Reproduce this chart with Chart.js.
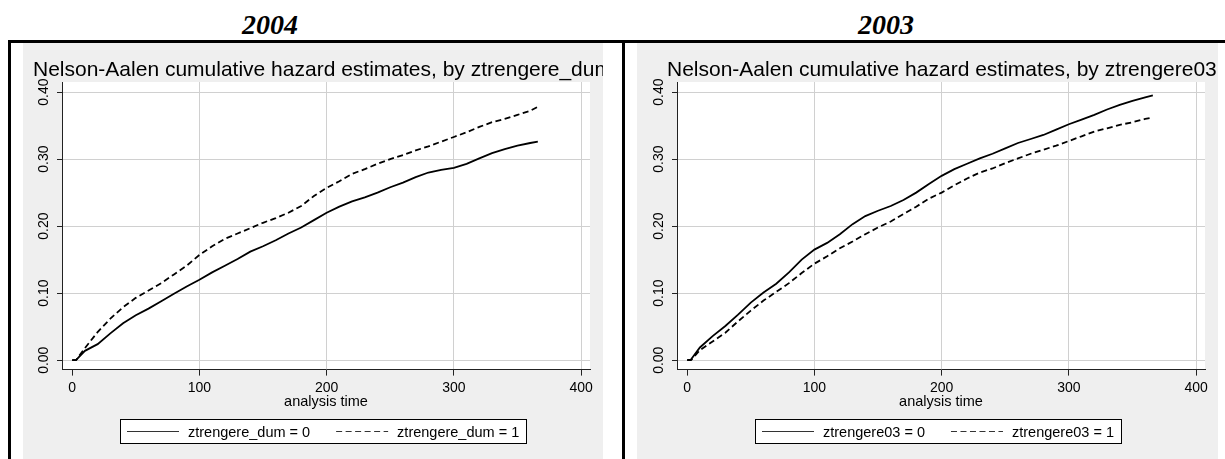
<!DOCTYPE html>
<html>
<head>
<meta charset="utf-8">
<script src="https://cdn.jsdelivr.net/npm/chart.js@4.4.1/dist/chart.umd.min.js"></script>
<style>
  html, body { margin: 0; padding: 0; background: #fff; }
  body { position: relative; width: 1225px; height: 459px; overflow: hidden; font-family: "Liberation Sans", Arial, sans-serif; }
  .caption { position: absolute; left: 35px; top: -23px; font: italic bold 20px/20px "Liberation Serif", "Times New Roman", serif; white-space: nowrap; color: #000; }
  .year { position: absolute; top: 11px; width: 200px; text-align: center; font: italic bold 28px/28px "Liberation Serif", "Times New Roman", serif; color: #000; }
  .rule { position: absolute; background: #000; }
  .panel { position: absolute; top: 43px; height: 416px; background: #efefef; }
  .panel canvas { display: block; }
</style>
</head>
<body>
<div class="caption">Figure 6  Nelson-Aalen cumulative hazard estimates, by year of entry</div>
<div class="year" style="left:170px">2004</div>
<div class="year" style="left:786px">2003</div>
<div class="rule" style="left:8px; top:40px; width:1217px; height:3px"></div>
<div class="rule" style="left:8px; top:40px; width:3px; height:419px"></div>
<div class="rule" style="left:622px; top:40px; width:3px; height:419px"></div>
<div class="panel" style="left:23px; width:580px"><canvas id="chart2004" width="580" height="416"></canvas></div>
<div class="panel" style="left:637px; width:581px"><canvas id="chart2003" width="581" height="416"></canvas></div>

<script>
// Analysis time (days) at which the cumulative hazards are listed
const times = [0, 3, 10, 20, 30, 40, 50, 60, 70, 80, 90, 100, 110, 120, 130, 140, 150, 160, 170, 180,
               190, 200, 210, 220, 230, 240, 250, 260, 270, 280, 290, 300, 310, 320, 330, 340, 350, 360, 366];

// 2004: Nelson-Aalen cumulative hazard by ztrengere_dum
const hazard2004Dum0 = [0, 0, 0.014, 0.024, 0.040, 0.055, 0.067, 0.077, 0.088, 0.099, 0.110, 0.120, 0.131, 0.141,
                        0.151, 0.162, 0.170, 0.179, 0.189, 0.198, 0.209, 0.220, 0.229, 0.237, 0.243, 0.250, 0.258,
                        0.265, 0.273, 0.280, 0.284, 0.287, 0.293, 0.301, 0.309, 0.315, 0.320, 0.324, 0.326];
const hazard2004Dum1 = [0, 0, 0.018, 0.042, 0.062, 0.079, 0.093, 0.104, 0.115, 0.128, 0.141, 0.157, 0.170, 0.181,
                        0.189, 0.197, 0.205, 0.212, 0.220, 0.230, 0.245, 0.257, 0.267, 0.278, 0.285, 0.293, 0.300,
                        0.306, 0.313, 0.319, 0.326, 0.333, 0.340, 0.348, 0.355, 0.360, 0.366, 0.372, 0.378];

// 2003: Nelson-Aalen cumulative hazard by ztrengere03
const hazard2003Grp0 = [0, 0.001, 0.019, 0.036, 0.051, 0.068, 0.086, 0.101, 0.114, 0.131, 0.150, 0.165, 0.175, 0.188,
                        0.203, 0.215, 0.223, 0.230, 0.239, 0.250, 0.263, 0.275, 0.285, 0.293, 0.301, 0.308, 0.316,
                        0.324, 0.330, 0.336, 0.344, 0.352, 0.359, 0.366, 0.374, 0.381, 0.387, 0.392, 0.395];
const hazard2003Grp1 = [0, 0, 0.015, 0.028, 0.041, 0.058, 0.074, 0.089, 0.102, 0.115, 0.130, 0.144, 0.155, 0.167,
                        0.177, 0.188, 0.198, 0.207, 0.218, 0.229, 0.241, 0.250, 0.261, 0.271, 0.280, 0.286, 0.294,
                        0.301, 0.308, 0.314, 0.320, 0.327, 0.334, 0.341, 0.346, 0.351, 0.355, 0.360, 0.362];

const xTickValues = [0, 100, 200, 300, 400];
const yTickValues = [0, 0.1, 0.2, 0.3, 0.4];
const yTickLabels = ['0.00', '0.10', '0.20', '0.30', '0.40'];
const xAxisTitle = 'analysis time';

const FONT = '"Liberation Sans", Arial, sans-serif';

// Stata-style decorations: white plot region, clipped title, rotated y labels, boxed legend
const stataDecor = {
  id: 'stataDecor',
  beforeDraw(chart) {
    const { ctx, chartArea: a } = chart;
    ctx.save();
    ctx.fillStyle = '#ffffff';
    ctx.fillRect(a.left, a.top, a.right - a.left, a.bottom - a.top);
    ctx.restore();
  },
  afterDraw(chart, args, o) {
    const { ctx, chartArea: a } = chart;
    const ys = chart.scales.y;
    ctx.save();
    ctx.fillStyle = '#000';

    // graph title
    ctx.font = '21px ' + FONT;
    ctx.textAlign = 'left';
    ctx.textBaseline = 'alphabetic';
    ctx.fillText(o.title, o.titleX, o.titleY);

    // vertical y tick labels
    ctx.font = '14px ' + FONT;
    ctx.textAlign = 'center';
    ctx.textBaseline = 'middle';
    ys.ticks.forEach((t, i) => {
      const y = ys.getPixelForValue(t.value);
      ctx.save();
      ctx.translate(a.left - 17.5, y);
      ctx.rotate(-Math.PI / 2);
      ctx.fillText(yTickLabels[i], 0, 0);
      ctx.restore();
    });

    // legend
    ctx.font = '14.5px ' + FONT;
    const items = chart.data.datasets;
    const pad = 7, sample = 52, gapS = 9, gapItem = 26, h = 24;
    const widths = items.map(d => ctx.measureText(d.label).width);
    const total = pad * 2 + widths.reduce((s, w) => s + w, 0) + items.length * (sample + gapS) + gapItem * (items.length - 1);
    let x = Math.round((a.left + a.right) / 2 - total / 2) - 3;
    const top = o.legendTop;
    ctx.fillStyle = '#fff';
    ctx.fillRect(x, top, Math.round(total), h);
    ctx.strokeStyle = '#000';
    ctx.lineWidth = 1;
    ctx.strokeRect(x + 0.5, top + 0.5, Math.round(total), h);
    const midY = top + h / 2 + 0.5;
    x += pad;
    items.forEach((d, i) => {
      ctx.save();
      ctx.strokeStyle = '#333';
      ctx.lineWidth = 1.2;
      ctx.setLineDash(d.borderDash || []);
      ctx.beginPath();
      ctx.moveTo(x, midY);
      ctx.lineTo(x + sample, midY);
      ctx.stroke();
      ctx.restore();
      x += sample + gapS;
      ctx.fillStyle = '#000';
      ctx.textAlign = 'left';
      ctx.textBaseline = 'middle';
      ctx.fillText(d.label, x, midY + 1);
      x += widths[i] + gapItem;
    });
    ctx.restore();
  }
};

function toPoints(vals) {
  return times.map((t, i) => ({ x: t, y: vals[i] }));
}

function makePanel(id, opts) {
  return new Chart(document.getElementById(id), {
    type: 'line',
    data: {
      datasets: [
        { label: opts.labels[0], data: toPoints(opts.series[0]), borderColor: '#000', borderWidth: 1.8,
          pointRadius: 0, tension: 0, fill: false },
        { label: opts.labels[1], data: toPoints(opts.series[1]), borderColor: '#000', borderWidth: 1.8,
          borderDash: [6, 3.5], pointRadius: 0, tension: 0, fill: false }
      ]
    },
    options: {
      responsive: false,
      animation: false,
      events: [],
      layout: { padding: { top: 39, right: 13, bottom: 0, left: 0 } },
      plugins: {
        legend: { display: false },
        title: { display: false },
        tooltip: { enabled: false },
        stataDecor: { title: opts.title, titleX: opts.titleX, titleY: 33, legendTop: 376 }
      },
      scales: {
        x: {
          type: 'linear',
          min: -8, max: 407,
          afterBuildTicks(scale) { scale.ticks = xTickValues.map(v => ({ value: v })); },
          afterFit(scale) { scale.height = 89.4; },
          ticks: { font: { family: FONT, size: 14 }, color: '#000', padding: 4, maxRotation: 0, includeBounds: false },
          grid: {
            color: c => (c.tick && c.tick.value === 0 ? 'rgba(0,0,0,0)' : '#d0d0d0'),
            lineWidth: 1, tickColor: '#222', tickLength: 6
          },
          border: { display: true, color: '#222', width: 1 },
          title: { display: true, text: xAxisTitle, color: '#000', font: { family: FONT, size: 14.5 },
                   padding: { top: 0, bottom: 48 } }
        },
        y: {
          type: 'linear',
          min: -0.014, max: 0.415,
          afterBuildTicks(scale) { scale.ticks = yTickValues.map(v => ({ value: v })); },
          afterFit(scale) { scale.width = opts.yAxisWidth; },
          ticks: { display: false, includeBounds: false },
          grid: { color: '#d0d0d0', lineWidth: 1, tickColor: '#222', tickLength: 5 },
          border: { display: true, color: '#222', width: 1 }
        }
      }
    },
    plugins: [stataDecor]
  });
}

makePanel('chart2004', {
  title: 'Nelson-Aalen cumulative hazard estimates, by ztrengere_dum',
  titleX: 10,
  yAxisWidth: 39,
  labels: ['ztrengere_dum = 0', 'ztrengere_dum = 1'],
  series: [hazard2004Dum0, hazard2004Dum1]
});

makePanel('chart2003', {
  title: 'Nelson-Aalen cumulative hazard estimates, by ztrengere03',
  titleX: 30,
  yAxisWidth: 40,
  labels: ['ztrengere03 = 0', 'ztrengere03 = 1'],
  series: [hazard2003Grp0, hazard2003Grp1]
});
</script>
</body>
</html>
